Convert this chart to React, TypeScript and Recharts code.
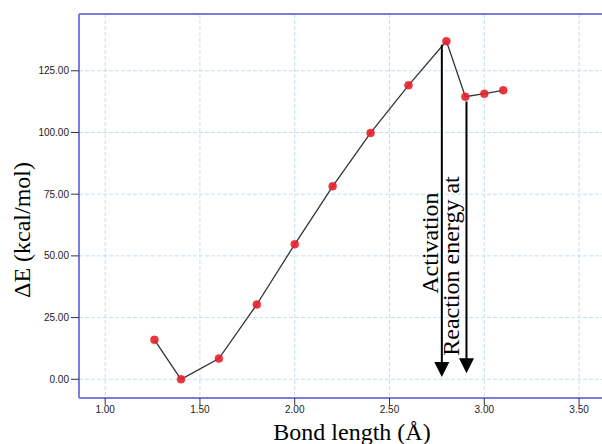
import React from 'react';
import {
  LineChart,
  Line,
  XAxis,
  YAxis,
  CartesianGrid,
  ReferenceLine,
  ReferenceDot,
  Label,
} from 'recharts';

const bondLength = [1.26, 1.4, 1.6, 1.8, 2.0, 2.2, 2.4, 2.6, 2.8, 2.9, 3.0, 3.1];
const deltaE = [16.0, 0.0, 8.4, 30.3, 54.7, 78.2, 99.8, 119.1, 137.0, 114.5, 115.7, 117.1];
const xTicks = [1.0, 1.5, 2.0, 2.5, 3.0, 3.5];
const yTicks = [0, 25, 50, 75, 100, 125];

const arrowX = [2.776, 2.906];
const arrowTop = [135.5, 112.5];
const arrowTip = [0.97, 2.4];
const noteText = ['Activation', 'Reaction energy at'];
const noteX = [2.755, 2.866];
const noteY = [55.2, 45.9];

const data = bondLength.map((x, i) => ({ x, y: deltaE[i] }));

const AXIS_BLUE = '#7b7be0';
const SERIF = '"Liberation Serif", "Times New Roman", serif';
const SANS = '"Liberation Sans", Arial, sans-serif';

const arrowShape = (props: any) => {
  const { x1, y1, x2, y2 } = props;
  if ([x1, y1, x2, y2].some((v) => v == null || isNaN(v))) return <g />;
  const head = 15;
  const half = 7.5;
  return (
    <g>
      <line x1={x1} y1={y1} x2={x2} y2={y2 - head + 1} stroke="#000" strokeWidth={2} />
      <polygon
        points={`${x2 - half},${y2 - head} ${x2 + half},${y2 - head} ${x2},${y2}`}
        fill="#000"
      />
    </g>
  );
};

const noteShape = (text: string) => (props: any) => {
  const { cx, cy } = props;
  return (
    <text
      x={cx}
      y={cy}
      transform={`rotate(-90 ${cx} ${cy})`}
      textAnchor="middle"
      fontFamily={SERIF}
      fontSize={24}
      fill="#000"
    >
      {text}
    </text>
  );
};

export default function App() {
  return (
    <div
      style={{
        position: 'absolute',
        left: 0,
        top: 0,
        width: 602,
        height: 444,
        overflow: 'hidden',
        background: '#fff',
      }}
    >
      <LineChart
        width={640}
        height={444}
        data={data}
        margin={{ top: 14, right: 23, left: 0, bottom: 0 }}
      >
        <CartesianGrid stroke="#c4def4" strokeDasharray="4 2" />
        <XAxis
          type="number"
          dataKey="x"
          domain={[0.862, 3.7]}
          ticks={xTicks}
          tickFormatter={(v: number) => v.toFixed(2)}
          height={46}
          allowDataOverflow
          axisLine={{ stroke: AXIS_BLUE, strokeWidth: 2 }}
          tickLine={{ stroke: '#333' }}
          tickSize={7}
          tickMargin={1}
          tick={{ fontSize: 10, fill: '#222', fontFamily: SANS }}
        >
          <Label
            content={() => (
              <text
                x={352}
                y={440}
                textAnchor="middle"
                fontFamily={SERIF}
                fontSize={24}
                fill="#000"
              >
                Bond length (Å)
              </text>
            )}
          />
        </XAxis>
        <YAxis
          type="number"
          domain={[-7.58, 148.0]}
          ticks={yTicks}
          tickFormatter={(v: number) => v.toFixed(2)}
          width={79}
          allowDataOverflow
          axisLine={{ stroke: AXIS_BLUE, strokeWidth: 2 }}
          tickLine={{ stroke: '#333' }}
          tickSize={8}
          tickMargin={2}
          tick={{ fontSize: 10, fill: '#222', fontFamily: SANS }}
        >
          <Label
            content={() => (
              <text
                x={30}
                y={230}
                transform="rotate(-90 30 230)"
                textAnchor="middle"
                fontFamily={SERIF}
                fontSize={24}
                fill="#000"
              >
                ΔE (kcal/mol)
              </text>
            )}
          />
        </YAxis>
        <ReferenceLine y={148.0} stroke={AXIS_BLUE} strokeWidth={2} />
        <Line
          type="linear"
          dataKey="y"
          stroke="#333"
          strokeWidth={1.3}
          dot={{ r: 4, fill: '#e8202c', fillOpacity: 0.9, stroke: '#e8202c', strokeOpacity: 0.4, strokeWidth: 1 }}
          activeDot={false}
          isAnimationActive={false}
        />
        {arrowX.map((ax, i) => (
          <ReferenceLine
            key={`arrow-${i}`}
            segment={[
              { x: ax, y: arrowTop[i] },
              { x: ax, y: arrowTip[i] },
            ]}
            shape={arrowShape}
          />
        ))}
        {noteText.map((t, i) => (
          <ReferenceDot
            key={`note-${i}`}
            x={noteX[i]}
            y={noteY[i]}
            r={0}
            shape={noteShape(t)}
          />
        ))}
      </LineChart>
    </div>
  );
}
